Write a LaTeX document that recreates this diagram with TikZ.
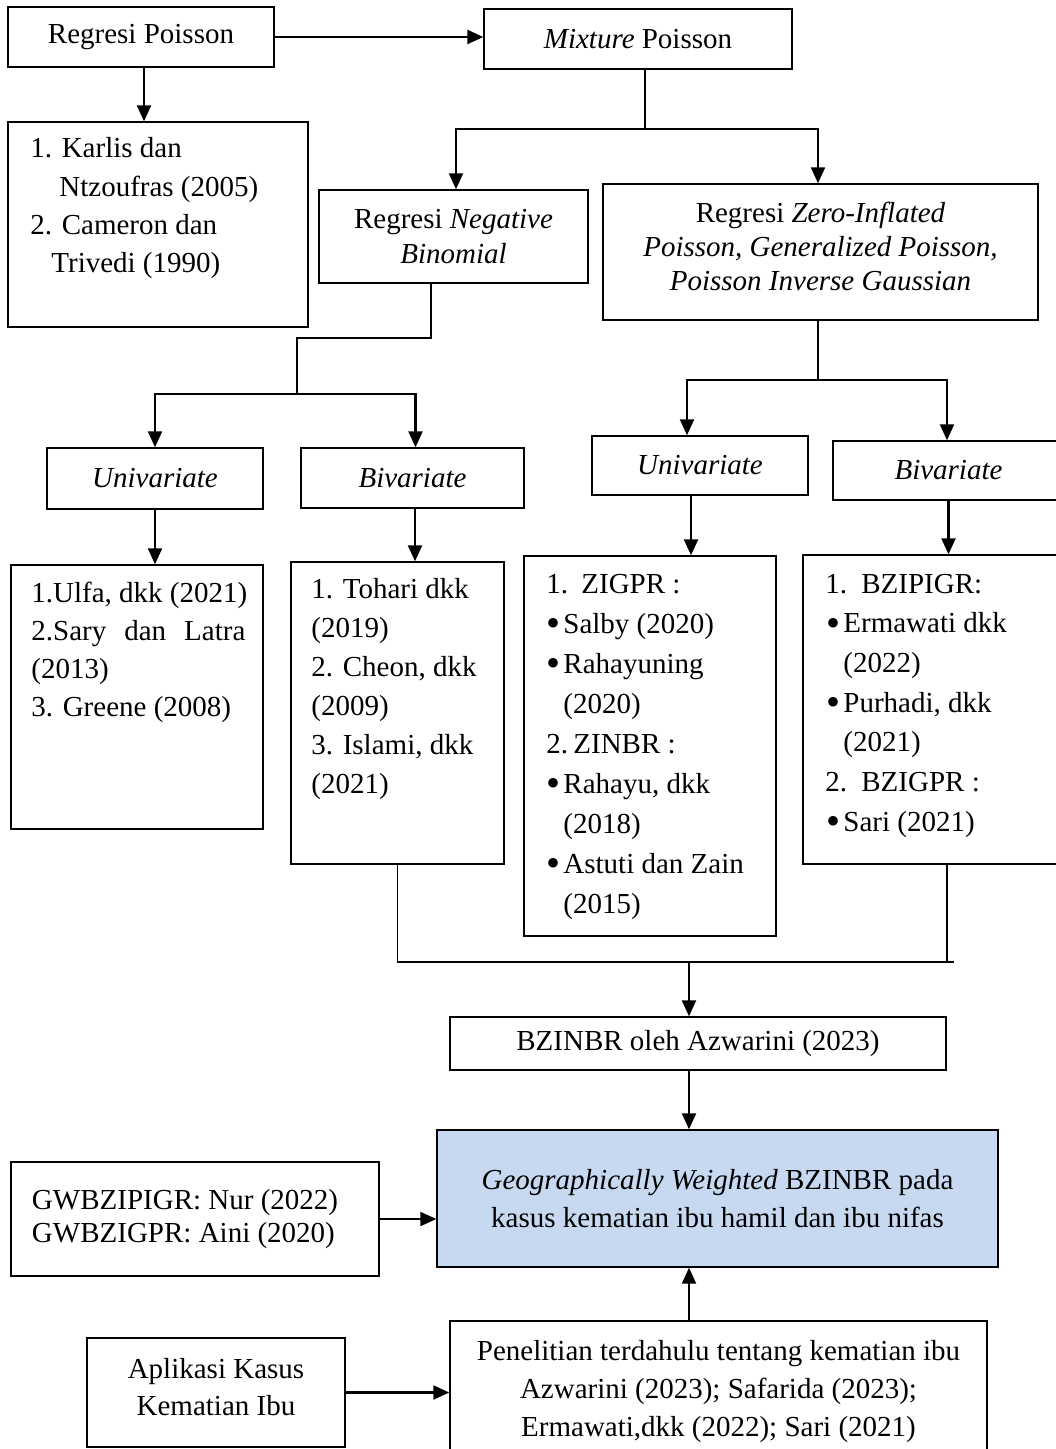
\documentclass[tikz,border=0pt]{standalone}
\usepackage{fontspec}
\setmainfont{Liberation Serif}
\usetikzlibrary{arrows.meta,calc}
\definecolor{gwblue}{HTML}{C6D9F1}
\newcommand{\lstbox}[2]{\parbox[t]{220pt}{\fontsize{14.5}{#1}\selectfont\raggedright #2}}
\newcommand{\bul}{\makebox[8.5pt][l]{\raisebox{-1.8pt}{\fontsize{20}{20}\selectfont\textbullet}}}
\newcommand{\dropby}[1]{\rule[-#1]{0pt}{#1}}
\begin{document}
\begin{tikzpicture}[x=0.5pt,y=-0.5pt,
  box/.style={draw=black, line width=0.7pt, inner sep=0pt, align=center, font={\fontsize{14.5}{19}\selectfont}},
  conn/.style={line width=0.85pt},
  arr/.style={line width=1.1pt, -{Triangle[length=8pt,width=7pt]}},
  txt/.style={inner sep=0pt, anchor=base west}]
\useasboundingbox (0,0) rectangle (1055,1449);

% ---- boxes ----
\node[box, minimum width=133pt, minimum height=30pt] (rp) at (141,37) {Regresi Poisson};
\node[box, minimum width=154pt, minimum height=30pt] (mp) at (638,39) {\textit{Mixture} Poisson};
\node[box, minimum width=150pt, minimum height=102.5pt] (kd) at (158,224.5) {};
\node[box, minimum width=134.5pt, minimum height=46.5pt, font={\fontsize{14.5}{17.5}\selectfont}] (nb) at (453.5,236.5) {Regresi \textit{Negative}\\\textit{Binomial}};
\node[box, minimum width=217.5pt, minimum height=68pt, font={\fontsize{14.5}{17}\selectfont}] (zi) at (820.5,252) {Regresi \textit{Zero-Inflated}\\\textit{Poisson, Generalized Poisson,}\\\textit{Poisson Inverse Gaussian}\dropby{6pt}};
\node[box, minimum width=108pt, minimum height=30.5pt] (ul) at (155,478.5) {\textit{Univariate}};
\node[box, minimum width=111.5pt, minimum height=30pt] (bl) at (412.5,478) {\textit{Bivariate}};
\node[box, minimum width=108pt, minimum height=29.5pt] (ur) at (700,465.5) {\textit{Univariate}};
\node[box, minimum width=115.5pt, minimum height=29.5pt] (br) at (948.5,470.5) {\textit{Bivariate}};
\node[box, minimum width=126pt, minimum height=132pt] (ulf) at (137,697) {};
\node[box, minimum width=106.5pt, minimum height=151pt] (toh) at (397.5,713) {};
\node[box, minimum width=126pt, minimum height=190pt] (zig) at (650,746) {};
\node[box, minimum width=130.5pt, minimum height=154.5pt] (bzp) at (933.5,709.5) {};
\node[box, minimum width=248pt, minimum height=26.5pt] (bzn) at (698,1043.5) {BZINBR oleh Azwarini (2023)};
\node[box, fill=gwblue, minimum width=280.5pt, minimum height=68.5pt] (gw) at (717.5,1198.5) {\textit{Geographically Weighted} BZINBR pada\\kasus kematian ibu hamil dan ibu nifas};
\node[box, minimum width=184pt, minimum height=57pt, font={\fontsize{14.5}{16.75}\selectfont}] (gwb) at (195,1219) {\makebox[163pt][l]{GWBZIPIGR: Nur (2022)}\\\makebox[163pt][l]{GWBZIGPR: Aini (2020)}\dropby{3pt}};
\node[box, minimum width=129pt, minimum height=54.5pt, font={\fontsize{14.5}{18.5}\selectfont}] (apl) at (216,1392.5) {Aplikasi Kasus\\Kematian Ibu\dropby{6pt}};
\node[box, minimum width=268.5pt, minimum height=70.5pt] (pen) at (718.5,1391.5) {Penelitian terdahulu tentang kematian ibu\\Azwarini (2023); Safarida (2023);\\Ermawati,dkk (2022); Sari (2021)};

% ---- list texts ----
\node[txt] (kdt) at (30,158) {\lstbox{19.15pt}{1. Karlis dan\\\hspace*{14.5pt}Ntzoufras (2005)\\2. Cameron dan\\\hspace*{10.5pt}Trivedi (1990)}};
\node[txt] (ulft) at (31,602) {\lstbox{19.15pt}{1.Ulfa, dkk (2021)\\\leavevmode\hbox to 107pt{2.Sary\hfill dan\hfill Latra}\\(2013)\\3. Greene (2008)}};
\node[txt] (toht) at (311,598) {\lstbox{19.5pt}{1. Tohari dkk\\(2019)\\2. Cheon, dkk\\(2009)\\3. Islami, dkk\\(2021)}};
\node[txt] (zigt) at (546,593) {\lstbox{20pt}{\makebox[17.5pt][l]{1.}ZIGPR :\\\bul Salby (2020)\\\bul Rahayuning\\\hspace*{8.5pt}(2020)\\\makebox[13.5pt][l]{2.}ZINBR :\\\bul Rahayu, dkk\\\hspace*{8.5pt}(2018)\\\bul Astuti dan Zain\\\hspace*{8.5pt}(2015)}};
\node[txt] (bzpt) at (825,593) {\lstbox{19.85pt}{\makebox[18pt][l]{1.}BZIPIGR:\\\hspace*{0.5pt}\bul Ermawati dkk\\\hspace*{9pt}(2022)\\\hspace*{0.5pt}\bul Purhadi, dkk\\\hspace*{9pt}(2021)\\\makebox[18pt][l]{2.}BZIGPR :\\\hspace*{0.5pt}\bul Sari (2021)}};

% ---- connectors ----
\draw[arr] (rp.east) -- (rp.east -| mp.west);
\draw[arr] ($(rp.south)+(3,0)$) -- ($(rp.south |- kd.north)+(3,0)$);

\coordinate (mj) at (645,129);
\draw[conn] (mp.south -| mj) -- (mj);
\draw[arr] (mj) -| ($(nb.north)+(2.5,0)$);
\draw[arr] (mj) -| ($(zi.north)+(-2.5,0)$);

\coordinate (nbs) at ($(nb.south)+(-22.5,0)$);
\draw[conn] (nbs) -- ++(0,54) -- ++(-134,0) -- ++(0,56) coordinate (nbj);
\draw[arr] (nbj) -| (ul.north);
\draw[arr] (nbj) -| ($(bl.north)+(3,0)$);
\draw[arr] (ul.south) -- (ul.south |- ulf.north);
\draw[arr] ($(bl.south)+(2.5,0)$) -- ($(bl.south |- toh.north)+(2.5,0)$);

\coordinate (zj) at (818,380);
\draw[conn] (zi.south -| zj) -- (zj);
\draw[arr] (zj) -| ($(ur.north)+(-13,0)$);
\draw[arr] (zj) -| ($(br.north)+(-1.5,0)$);
\draw[arr] ($(ur.south)+(-9,0)$) -- ($(ur.south |- zig.north)+(-9,0)$);
\draw[arr] (br.south) -- (br.south |- bzp.north);

\coordinate (cj) at (689,962);
\draw[conn] (toh.south) -- (toh.south |- cj) -- ($(cj)+(265,0)$);
\draw[conn] ($(bzp.south)+(13.5,0)$) -- ($(bzp.south |- cj)+(13.5,0)$);
\draw[arr] (cj) -- (cj |- bzn.north);
\draw[arr] (cj |- bzn.south) -- (cj |- gw.north);
\draw[arr] (gwb.east) -- (gwb.east -| gw.west);
\draw[arr] (cj |- pen.north) -- (cj |- gw.south);
\draw[arr] (apl.east) -- (apl.east -| pen.west);
\end{tikzpicture}
\end{document}
